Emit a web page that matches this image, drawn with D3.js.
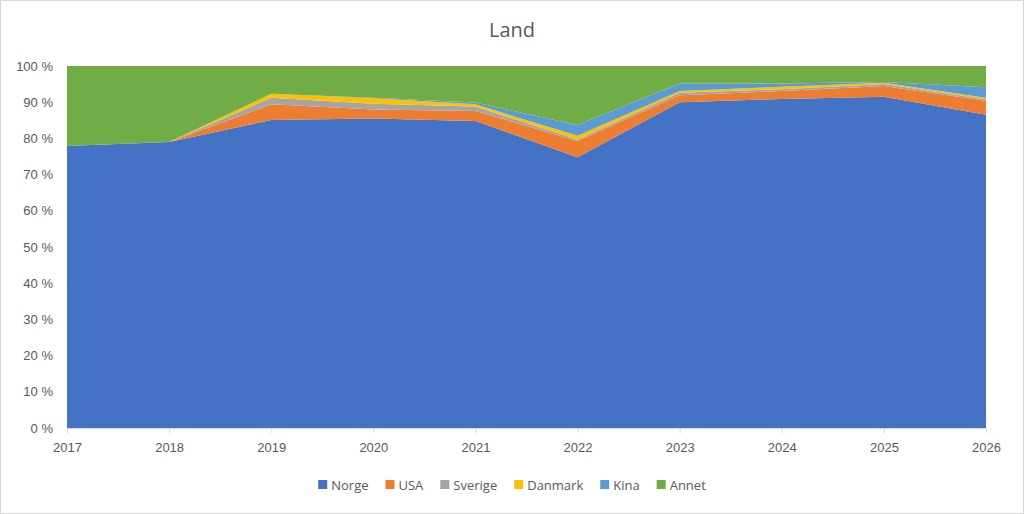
<!DOCTYPE html>
<html>
<head>
<meta charset="utf-8">
<script src="https://cdn.jsdelivr.net/npm/d3@7"></script>
<style>
  body { margin: 0; background: #fff; }
  svg { display: block; font-family: "Open Sans", "Liberation Sans", sans-serif; }
</style>
</head>
<body>
<svg id="chart" width="1024" height="514"></svg>
<script>
// data (percent of each year)
var years = ["2017", "2018", "2019", "2020", "2021", "2022", "2023", "2024", "2025", "2026"];
var norge   = [77.9, 79.0, 85.1, 85.5, 84.8, 74.8, 90.0, 90.9, 91.5, 86.5];
var usa     = [0, 0, 4.3, 2.5, 2.8, 4.5, 1.9, 2.2, 3.0, 3.9];
var sverige = [0, 0, 1.8, 1.6, 1.2, 0.4, 0.7, 0.5, 0.5, 0.4];
var danmark = [0, 0, 1.1, 1.5, 0.6, 1.0, 0.5, 0.7, 0.4, 0.4];
var kina    = [0, 0, 0, 0.1, 0.5, 3.0, 2.1, 0.9, 0.2, 2.9];
var annet   = [22.1, 21.0, 7.7, 8.8, 10.1, 16.3, 4.8, 4.8, 4.4, 5.9];
var seriesNames = ["Norge", "USA", "Sverige", "Danmark", "Kina", "Annet"];
var yTicks = [0, 0.1, 0.2, 0.3, 0.4, 0.5, 0.6, 0.7, 0.8, 0.9, 1];

var colors = ["#4472C4", "#ED7D31", "#A5A5A5", "#FFC000", "#5B9BD5", "#70AD47"];
var allSeries = [norge, usa, sverige, danmark, kina, annet];

var rows = years.map(function(y, i) {
    var r = { year: y };
    seriesNames.forEach(function(s, k) { r[s] = allSeries[k][i]; });
    return r;
});

var svg = d3.select("#chart");
var width = 1024, height = 514;
var margin = { left: 67, right: 38, top: 66, bottom: 86 };

// outer chart border
svg.append("rect")
   .attr("x", 0.5).attr("y", 0.5)
   .attr("width", width - 1).attr("height", height - 1)
   .attr("fill", "#fff").attr("stroke", "#d9d9d9");

var x = d3.scalePoint().domain(years).range([margin.left, width - margin.right]);
var y = d3.scaleLinear().domain([0, 1]).range([height - margin.bottom, margin.top]);

var stack = d3.stack().keys(seriesNames).offset(d3.stackOffsetExpand);
var layers = stack(rows);

var area = d3.area()
    .x(function(d) { return x(d.data.year); })
    .y0(function(d) { return y(d[0]); })
    .y1(function(d) { return y(d[1]); });

svg.append("g").selectAll("path")
   .data(layers)
   .enter().append("path")
   .attr("d", area)
   .attr("fill", function(d, i) { return colors[i]; });

// y axis labels
var yAxis = d3.axisLeft(y).tickValues(yTicks)
    .tickFormat(function(d) { return Math.round(d * 100) + " %"; })
    .tickSize(0).tickPadding(14);
var gy = svg.append("g").attr("transform", "translate(" + margin.left + ",0)").call(yAxis);
gy.select(".domain").remove();
gy.selectAll("text").attr("fill", "#595959").style("font-size", "13px");

// x axis
var xAxis = d3.axisBottom(x).tickSize(5).tickPadding(10);
var gx = svg.append("g").attr("transform", "translate(0," + (height - margin.bottom) + ")").call(xAxis);
gx.select(".domain").attr("stroke", "#d9d9d9");
gx.selectAll(".tick line").attr("stroke", "#d9d9d9");
gx.selectAll("text").attr("fill", "#595959").style("font-size", "13px");

// title
svg.append("text")
   .attr("x", width / 2).attr("y", 37)
   .attr("text-anchor", "middle")
   .attr("fill", "#595959")
   .style("font-size", "20px")
   .text("Land");

// legend
var legend = svg.append("g");
var items = legend.selectAll("g").data(seriesNames).enter().append("g");
items.append("rect").attr("width", 9).attr("height", 9).attr("y", -5)
     .attr("fill", function(d, i) { return colors[i]; });
items.append("text").attr("x", 13).attr("dy", "0.35em")
     .attr("fill", "#595959").style("font-size", "13px")
     .text(function(d) { return d; });
var pos = 0;
items.each(function() {
    var w = d3.select(this).select("text").node().getComputedTextLength() + 13;
    d3.select(this).attr("transform", "translate(" + pos + ",0)");
    pos += w + 17;
});
pos -= 17;
legend.attr("transform", "translate(" + (width / 2 - pos / 2) + ",485)");
</script>
</body>
</html>
